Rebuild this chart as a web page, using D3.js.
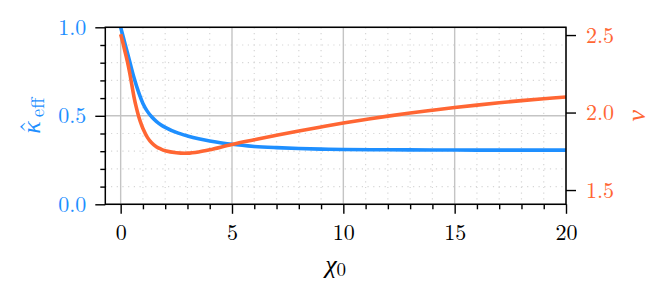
<!DOCTYPE html>
<html>
<head>
<meta charset="utf-8">
<script src="https://cdn.jsdelivr.net/npm/d3@7"></script>
<style>
  html, body { margin: 0; padding: 0; background: #fff; }
</style>
</head>
<body>
<svg id="chart" width="672" height="300"></svg>
<script>
// ---- data ----
const chiKappa = [0, 0.2, 0.4, 0.6, 0.8, 1.0, 1.2, 1.4, 1.6, 1.8, 2.0, 2.5, 3.0, 3.5, 4.0, 5.0, 6.0, 7.0, 8.0, 9.0, 10, 12, 14, 16, 18, 20];
const kappaEff = [1.0, 0.905, 0.81, 0.715, 0.635, 0.57, 0.525, 0.493, 0.469, 0.45, 0.435, 0.406, 0.386, 0.37, 0.358, 0.339, 0.327, 0.32, 0.315, 0.312, 0.31, 0.308, 0.307, 0.306, 0.306, 0.306];
const chiNu = [0, 0.1, 0.2, 0.3, 0.4, 0.5, 0.6, 0.7, 0.8, 0.9, 1.0, 1.2, 1.4, 1.6, 1.8, 2.0, 2.5, 3.0, 3.5, 4.0, 5, 6, 7, 8, 9, 10, 11, 12, 13, 14, 15, 16, 17, 18, 19, 20];
const nuValues = [2.505, 2.45, 2.39, 2.33, 2.26, 2.18, 2.10, 2.035, 1.98, 1.935, 1.897, 1.84, 1.803, 1.78, 1.765, 1.754, 1.741, 1.738, 1.746, 1.76, 1.794, 1.824, 1.853, 1.881, 1.907, 1.932, 1.955, 1.977, 1.997, 2.015, 2.032, 2.048, 2.063, 2.077, 2.089, 2.100];
const xTicks = [0, 5, 10, 15, 20];
const xMinorTicks = d3.range(0, 21, 1);
const leftTicks = [0.0, 0.5, 1.0];
const leftMinorTicks = d3.range(0, 1.0001, 0.1);
const rightTicks = [1.5, 2.0, 2.5];

// ---- layout ----
const L = 105.3, R = 566, T = 27.3, B = 204.3;
const blue = "#1e8fff", orange = "#ff6633";
const FONT = "Latin Modern Roman";
const GREEK = "Liberation Serif";
const svg = d3.select("#chart");

const x = d3.scaleLinear().domain([-0.69, 20]).range([L, R]);
const yL = d3.scaleLinear().domain([0, 1]).range([B, T]);
const yR = d3.scaleLinear().domain([1.408, 2.55]).range([B, T]);

// minor grid (dotted)
const grid = svg.append("g");
grid.selectAll(".mvx").data(xMinorTicks.filter(v => v % 5 !== 0)).enter().append("line")
  .attr("x1", d => x(d)).attr("x2", d => x(d)).attr("y1", T).attr("y2", B)
  .attr("stroke", "#d6d6d6").attr("stroke-width", 1.2).attr("stroke-dasharray", "1.2,4.5");
grid.selectAll(".mhy").data(leftMinorTicks.filter((v, i) => i % 5 !== 0)).enter().append("line")
  .attr("x1", L).attr("x2", R).attr("y1", d => yL(d)).attr("y2", d => yL(d))
  .attr("stroke", "#d6d6d6").attr("stroke-width", 1.2).attr("stroke-dasharray", "1.2,4.5");
// major grid
grid.selectAll(".gvx").data(xTicks).enter().append("line")
  .attr("x1", d => x(d)).attr("x2", d => x(d)).attr("y1", T).attr("y2", B)
  .attr("stroke", "#c4c4c4").attr("stroke-width", 1.4);
grid.selectAll(".ghy").data(leftTicks).enter().append("line")
  .attr("x1", L).attr("x2", R).attr("y1", d => yL(d)).attr("y2", d => yL(d))
  .attr("stroke", "#c4c4c4").attr("stroke-width", 1.4);

// clip
svg.append("clipPath").attr("id", "clip").append("rect")
  .attr("x", L).attr("y", T).attr("width", R - L).attr("height", B - T);

const lineK = d3.line().curve(d3.curveCatmullRom.alpha(0.5)).x((d, i) => x(chiKappa[i])).y(d => yL(d));
const lineN = d3.line().curve(d3.curveCatmullRom.alpha(0.5)).x((d, i) => x(chiNu[i])).y(d => yR(d));
svg.append("path").datum(kappaEff).attr("clip-path", "url(#clip)")
  .attr("d", lineK).attr("fill", "none").attr("stroke", blue).attr("stroke-width", 3.6);
svg.append("path").datum(nuValues).attr("clip-path", "url(#clip)")
  .attr("d", lineN).attr("fill", "none").attr("stroke", orange).attr("stroke-width", 3.6);

// axes
function styleAxis(g, color) {
  g.attr("font-family", FONT).attr("font-size", 22);
  g.select(".domain").remove();
  g.selectAll(".tick line").attr("stroke", "#000").attr("stroke-width", 1.4);
  g.selectAll(".tick text").attr("fill", color)
    .style("font-family", FONT).style("font-size", "22px");
}
const fmt = d3.format(".1f");
const gx = svg.append("g").attr("transform", `translate(0,${B})`)
  .call(d3.axisBottom(x).tickValues(xTicks).tickSize(9.5).tickPadding(11).tickFormat(d3.format("d")));
styleAxis(gx, "#000");
const gxm = svg.append("g").attr("transform", `translate(0,${B})`)
  .call(d3.axisBottom(x).tickValues(xMinorTicks.filter(v => v % 5 !== 0)).tickSize(5).tickFormat(""));
styleAxis(gxm, "#000");

const gl = svg.append("g").attr("transform", `translate(${L},0)`)
  .call(d3.axisLeft(yL).tickValues(leftTicks).tickSize(10).tickPadding(9).tickFormat(fmt));
styleAxis(gl, blue);
const glm = svg.append("g").attr("transform", `translate(${L},0)`)
  .call(d3.axisLeft(yL).tickValues(leftMinorTicks.filter((v, i) => i % 5 !== 0)).tickSize(5).tickFormat(""));
styleAxis(glm, blue);

const gr = svg.append("g").attr("transform", `translate(${R},0)`)
  .call(d3.axisRight(yR).tickValues(rightTicks).tickSize(10).tickPadding(10).tickFormat(fmt));
styleAxis(gr, orange);

// frame
svg.append("rect").attr("x", L).attr("y", T).attr("width", R - L).attr("height", B - T)
  .attr("fill", "none").attr("stroke", "#000").attr("stroke-width", 1.5);

// axis labels
const xl = svg.append("text").attr("x", (L + R) / 2).attr("y", 273)
  .attr("text-anchor", "middle").style("font-size", "26px").attr("fill", "#000");
xl.append("tspan").style("font-family", GREEK).style("font-style", "italic").text("χ");
xl.append("tspan").style("font-family", FONT).style("font-size", "19px").attr("dy", 3).text("0");

const kl = svg.append("text").attr("transform", `translate(40,${(T + B) / 2}) rotate(-90)`)
  .attr("text-anchor", "middle").style("font-size", "26px").attr("fill", blue);
kl.append("tspan").style("font-family", GREEK).style("font-style", "italic").text("κ");
kl.append("tspan").style("font-family", FONT).attr("dx", -12).attr("dy", -2).text("ˆ");
kl.append("tspan").style("font-family", FONT).style("font-size", "19px").attr("dx", 3).attr("dy", 6).text("eff");

svg.append("text").attr("transform", `translate(645,${(T + B) / 2}) rotate(-90)`)
  .attr("text-anchor", "middle").style("font-family", GREEK).style("font-size", "26px").style("font-style", "italic")
  .attr("fill", orange).text("ν");
</script>
</body>
</html>
